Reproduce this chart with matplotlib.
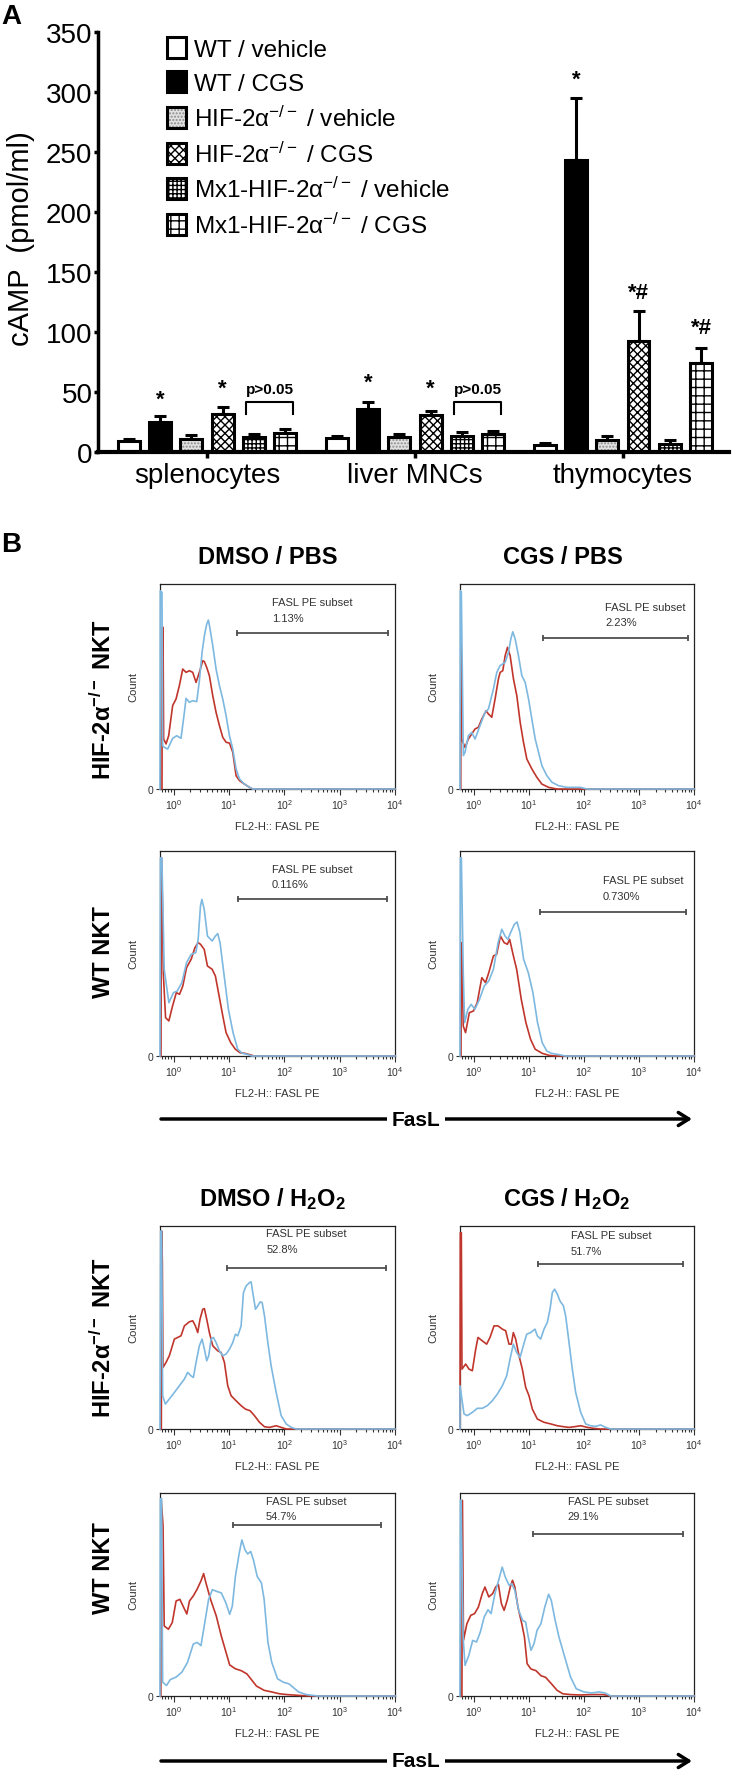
import numpy as np
import matplotlib.pyplot as plt
from matplotlib.patches import Patch, FancyArrowPatch

plt.rcParams['font.family'] = ['Liberation Sans', 'DejaVu Sans']
plt.rcParams['mathtext.fontset'] = 'custom'
plt.rcParams['mathtext.rm'] = 'Liberation Sans'
plt.rcParams['mathtext.it'] = 'Liberation Sans:italic'
plt.rcParams['mathtext.bf'] = 'Liberation Sans:bold'
plt.rcParams['hatch.linewidth'] = 1.0

W, H = 733, 1774   # output size in pixels (dpi 100)

# ---------------- panel A data: cAMP (pmol/ml) ----------------
cells = ['splenocytes', 'liver MNCs', 'thymocytes']
groups = ['WT / vehicle', 'WT / CGS',
          'HIF-2α$^{-/-}$ / vehicle', 'HIF-2α$^{-/-}$ / CGS',
          'Mx1-HIF-2α$^{-/-}$ / vehicle', 'Mx1-HIF-2α$^{-/-}$ / CGS']

wt_vehicle = [9.2, 11.7, 6.1]
wt_cgs = [25.0, 35.8, 243.6]
hif_vehicle = [11.0, 12.2, 9.7]
hif_cgs = [31.7, 31.1, 92.5]
mx1_vehicle = [12.2, 13.3, 6.4]
mx1_cgs = [15.8, 15.3, 74.4]

wt_vehicle_err = [1.8, 1.3, 1.4]
wt_cgs_err = [4.7, 5.9, 51.4]
hif_vehicle_err = [2.9, 2.8, 3.3]
hif_cgs_err = [5.8, 3.3, 24.7]
mx1_vehicle_err = [2.8, 3.4, 3.9]
mx1_cgs_err = [3.6, 1.9, 12.5]

# significance marks: (text, cell index, group index, y)
sig_text = ['*', '*', '*', '*', '*', '*#', '*#']
sig_cell = [0, 0, 1, 1, 2, 2, 2]
sig_group = [1, 3, 1, 3, 1, 3, 5]
sig_y = [44, 53, 58, 53, 311, 133, 104]
ns_cells = [0, 1]
ns_bracket_y = 41.7
ns_leg_y = 32
ns_text_y = 52.8

# ---------------- panel B data: FasL histograms ----------------
# points are (log10 FL2-H, % of max)
hif_dmso_pbs_red = [(-0.214, 0), (-0.208, 78.9), (-0.196, 78.9), (-0.184, 24.4), (-0.141, 22.0), (-0.093, 26.0), (-0.021, 40.7), (0.040, 43.9), (0.100, 50.4), (0.161, 58.5), (0.221, 56.9), (0.281, 57.7), (0.342, 56.9), (0.402, 52.0), (0.462, 56.9), (0.523, 62.6), (0.553, 62.1), (0.595, 59.3), (0.643, 55.3), (0.704, 45.5), (0.764, 37.4), (0.825, 30.9), (0.885, 25.2), (0.945, 22.8), (1.006, 22.4), (1.066, 17.9), (1.126, 6.5), (1.187, 4.1), (1.277, 2.4), (1.368, 0.8), (1.428, 0), (4.0, 0)]
hif_dmso_pbs_blue = [(-0.25, 0), (-0.244, 96.7), (-0.214, 95.9), (-0.202, 21.1), (-0.171, 20.3), (-0.111, 19.5), (-0.021, 24.7), (0.052, 26.0), (0.130, 24.7), (0.191, 37.4), (0.221, 44.2), (0.281, 42.3), (0.342, 43.1), (0.414, 42.6), (0.462, 52.8), (0.511, 66.7), (0.553, 74.8), (0.595, 80.5), (0.625, 82.4), (0.656, 78.0), (0.704, 69.9), (0.764, 58.5), (0.825, 50.4), (0.885, 43.9), (0.945, 35.8), (1.006, 26.0), (1.066, 19.5), (1.126, 9.8), (1.187, 4.9), (1.277, 2.4), (1.368, 0.8), (1.428, 0), (4.0, 0)]

hif_cgs_pbs_red = [(-0.238, 0), (-0.232, 87.0), (-0.220, 24.4), (-0.159, 20.3), (-0.098, 24.4), (-0.038, 26.8), (0.023, 29.3), (0.084, 30.1), (0.145, 34.1), (0.224, 38.2), (0.266, 36.6), (0.327, 35.0), (0.387, 43.9), (0.448, 53.7), (0.479, 56.9), (0.527, 57.7), (0.570, 65.0), (0.612, 69.1), (0.661, 65.0), (0.721, 53.7), (0.782, 45.5), (0.843, 32.5), (0.903, 22.8), (0.964, 14.6), (1.055, 9.8), (1.146, 5.7), (1.237, 2.4), (1.359, 0.8), (1.511, 0), (4.0, 0)]
hif_cgs_pbs_blue = [(-0.25, 0), (-0.244, 96.7), (-0.226, 95.9), (-0.189, 16.3), (-0.159, 17.9), (-0.098, 26.0), (-0.038, 27.6), (0.023, 24.4), (0.114, 30.9), (0.205, 37.4), (0.266, 39.0), (0.357, 48.8), (0.418, 56.9), (0.479, 60.2), (0.570, 61.8), (0.630, 66.7), (0.673, 73.2), (0.709, 76.7), (0.752, 73.2), (0.812, 65.0), (0.873, 55.3), (0.934, 52.0), (0.995, 43.9), (1.055, 34.1), (1.116, 24.4), (1.177, 17.9), (1.237, 11.4), (1.328, 6.5), (1.420, 3.3), (1.541, 1.6), (1.693, 0.8), (1.936, 0.8), (2.057, 0), (4.0, 0)]

wt_dmso_pbs_red = [(-0.233, 0), (-0.225, 96.7), (-0.208, 78.0), (-0.191, 40.7), (-0.149, 18.7), (-0.090, 17.1), (-0.023, 24.4), (0.045, 30.9), (0.103, 30.1), (0.162, 34.1), (0.230, 43.1), (0.314, 47.2), (0.381, 52.8), (0.440, 55.3), (0.482, 54.5), (0.550, 52.0), (0.608, 43.9), (0.693, 42.3), (0.752, 39.0), (0.819, 29.3), (0.886, 19.5), (0.945, 11.4), (1.029, 6.5), (1.113, 3.3), (1.198, 1.6), (1.282, 1.3), (1.366, 0.7), (1.450, 0), (4.0, 0)]
wt_dmso_pbs_blue = [(-0.25, 0), (-0.242, 96.7), (-0.216, 96.7), (-0.174, 42.3), (-0.090, 26.0), (-0.006, 30.9), (0.061, 31.7), (0.146, 35.8), (0.230, 45.5), (0.314, 49.6), (0.398, 50.4), (0.440, 56.9), (0.482, 73.2), (0.507, 76.4), (0.550, 71.5), (0.608, 58.5), (0.693, 56.1), (0.752, 58.5), (0.794, 59.7), (0.836, 55.3), (0.903, 40.7), (0.987, 22.8), (1.071, 11.4), (1.155, 3.3), (1.240, 1.3), (1.324, 0.8), (1.408, 0), (4.0, 0)]

wt_cgs_pbs_red = [(-0.233, 0), (-0.225, 55.3), (-0.208, 40.0), (-0.191, 14.6), (-0.149, 11.4), (-0.081, 21.1), (-0.005, 22.0), (0.062, 26.0), (0.146, 38.2), (0.214, 35.8), (0.273, 40.7), (0.357, 48.8), (0.416, 49.6), (0.484, 58.5), (0.551, 55.3), (0.610, 54.5), (0.652, 56.9), (0.720, 48.8), (0.779, 42.3), (0.863, 27.6), (0.947, 16.3), (1.032, 8.1), (1.116, 3.3), (1.243, 1.3), (1.369, 0.3), (1.496, 0), (4.0, 0)]
wt_cgs_pbs_blue = [(-0.25, 0), (-0.242, 96.7), (-0.225, 96.7), (-0.191, 40.7), (-0.166, 16.3), (-0.107, 22.8), (-0.048, 25.2), (0.020, 22.8), (0.104, 27.6), (0.189, 34.1), (0.273, 36.6), (0.357, 42.3), (0.442, 55.3), (0.509, 61.8), (0.568, 58.5), (0.619, 56.9), (0.669, 60.2), (0.737, 64.2), (0.787, 65.4), (0.838, 60.2), (0.905, 47.2), (0.990, 40.7), (1.074, 30.9), (1.158, 16.3), (1.243, 6.5), (1.327, 2.4), (1.411, 1.3), (1.538, 0.7), (1.664, 0), (4.0, 0)]

hif_dmso_h2o2_red = [(-0.226, 0), (-0.220, 97.5), (-0.208, 82.8), (-0.196, 30.3), (-0.141, 32.8), (-0.081, 36.1), (0.010, 44.3), (0.070, 45.1), (0.130, 45.9), (0.191, 50.8), (0.281, 52.8), (0.342, 53.3), (0.390, 50.8), (0.432, 47.5), (0.474, 54.1), (0.523, 59.0), (0.553, 59.3), (0.595, 54.1), (0.643, 47.5), (0.704, 41.0), (0.794, 38.5), (0.855, 37.7), (0.915, 32.8), (0.975, 21.3), (1.036, 16.4), (1.126, 13.9), (1.217, 11.5), (1.295, 9.8), (1.380, 9.0), (1.458, 6.6), (1.549, 3.3), (1.640, 1.1), (1.730, 0.8), (1.851, 1.6), (1.941, 0.8), (2.032, 0), (4.0, 0)]
hif_dmso_h2o2_blue = [(-0.25, 0), (-0.238, 97.5), (-0.220, 97.5), (-0.202, 16.4), (-0.153, 12.3), (-0.081, 14.8), (0.010, 18.0), (0.100, 21.3), (0.191, 24.6), (0.251, 27.9), (0.311, 26.2), (0.354, 25.4), (0.402, 32.8), (0.462, 41.0), (0.511, 44.3), (0.553, 39.3), (0.595, 33.6), (0.631, 36.1), (0.674, 44.3), (0.716, 45.1), (0.764, 42.6), (0.825, 38.5), (0.885, 36.1), (0.945, 36.9), (1.006, 39.3), (1.066, 42.6), (1.114, 46.7), (1.157, 45.9), (1.217, 50.8), (1.259, 67.2), (1.308, 70.5), (1.368, 72.1), (1.398, 72.5), (1.428, 67.2), (1.477, 59.0), (1.519, 60.7), (1.561, 62.6), (1.597, 62.3), (1.640, 55.7), (1.700, 42.6), (1.760, 31.1), (1.851, 18.0), (1.941, 6.6), (2.032, 2.5), (2.123, 0.8), (2.213, 0), (4.0, 0)]

hif_cgs_h2o2_red = [(-0.25, 0), (-0.244, 96.7), (-0.226, 96.7), (-0.214, 29.5), (-0.147, 32.0), (-0.087, 29.5), (-0.026, 28.7), (0.035, 39.3), (0.077, 45.1), (0.156, 43.4), (0.234, 41.8), (0.295, 45.1), (0.368, 50.8), (0.440, 50.8), (0.519, 49.2), (0.579, 48.4), (0.640, 41.8), (0.682, 41.8), (0.719, 47.5), (0.761, 44.3), (0.822, 36.1), (0.882, 29.5), (0.943, 20.5), (1.003, 16.4), (1.064, 9.8), (1.155, 4.9), (1.276, 3.3), (1.397, 2.5), (1.518, 1.6), (1.639, 1.1), (1.730, 0.8), (1.820, 1.1), (1.942, 1.6), (2.063, 0.8), (2.184, 0.3), (2.305, 0), (4.0, 0)]
hif_cgs_h2o2_blue = [(-0.25, 0), (-0.25, 21.3), (-0.177, 7.4), (-0.117, 6.6), (-0.026, 8.2), (0.065, 10.2), (0.156, 10.2), (0.246, 11.5), (0.337, 13.9), (0.428, 17.2), (0.519, 21.3), (0.598, 26.2), (0.658, 34.4), (0.719, 41.8), (0.779, 37.7), (0.840, 35.2), (0.900, 41.0), (0.961, 46.7), (1.033, 47.5), (1.112, 49.2), (1.155, 45.9), (1.215, 44.3), (1.276, 49.2), (1.336, 52.5), (1.385, 59.0), (1.427, 67.2), (1.469, 68.9), (1.518, 66.4), (1.566, 63.1), (1.627, 60.7), (1.669, 55.7), (1.730, 42.6), (1.790, 29.5), (1.851, 18.0), (1.942, 8.2), (2.032, 2.5), (2.123, 1.6), (2.214, 1.3), (2.305, 2.0), (2.396, 0.8), (2.486, 0), (4.0, 0)]

wt_dmso_h2o2_red = [(-0.236, 0), (-0.229, 97.2), (-0.195, 84.0), (-0.174, 34.5), (-0.098, 32.9), (-0.028, 36.2), (0.041, 46.8), (0.110, 47.6), (0.179, 43.6), (0.235, 40.4), (0.283, 46.8), (0.352, 49.3), (0.421, 52.6), (0.491, 56.7), (0.539, 60.3), (0.581, 55.7), (0.664, 47.6), (0.768, 39.4), (0.858, 29.6), (0.927, 23.1), (1.010, 15.3), (1.114, 13.4), (1.217, 12.5), (1.321, 10.9), (1.391, 8.5), (1.494, 4.9), (1.633, 2.8), (1.771, 2.0), (1.910, 1.1), (2.048, 0.7), (2.256, 0.3), (2.463, 0), (4.0, 0)]
wt_dmso_h2o2_blue = [(-0.25, 0), (-0.243, 97.2), (-0.222, 97.2), (-0.202, 6.8), (-0.132, 5.2), (-0.063, 8.1), (0.041, 9.3), (0.145, 11.7), (0.248, 16.6), (0.352, 25.6), (0.421, 26.4), (0.491, 24.8), (0.560, 36.2), (0.629, 47.6), (0.698, 52.4), (0.768, 51.6), (0.858, 50.8), (0.941, 45.9), (1.010, 40.2), (1.058, 44.3), (1.114, 59.0), (1.183, 70.4), (1.231, 76.9), (1.287, 72.0), (1.335, 70.0), (1.391, 71.2), (1.439, 67.1), (1.508, 58.9), (1.584, 55.7), (1.633, 47.6), (1.702, 26.4), (1.771, 16.6), (1.875, 8.5), (1.979, 6.8), (2.083, 6.0), (2.173, 3.9), (2.256, 2.0), (2.394, 0.7), (2.602, 0), (4.0, 0)]

wt_cgs_h2o2_red = [(-0.215, 0), (-0.208, 96.4), (-0.194, 55.0), (-0.187, 27.4), (-0.125, 35.6), (-0.055, 39.7), (0.015, 40.6), (0.084, 43.8), (0.154, 50.4), (0.203, 53.7), (0.273, 48.8), (0.342, 50.4), (0.398, 53.7), (0.447, 55.0), (0.502, 45.5), (0.551, 42.2), (0.607, 47.1), (0.663, 53.7), (0.704, 57.0), (0.746, 53.7), (0.802, 43.8), (0.872, 35.6), (0.920, 29.1), (0.969, 15.9), (1.039, 13.3), (1.129, 12.5), (1.220, 10.0), (1.304, 9.2), (1.408, 6.1), (1.513, 2.8), (1.617, 1.1), (1.757, 0.7), (1.931, 0.5), (2.140, 0.7), (2.349, 0.7), (2.488, 0), (4.0, 0)]
wt_cgs_h2o2_blue = [(-0.25, 0), (-0.243, 96.4), (-0.229, 96.4), (-0.215, 68.3), (-0.194, 29.1), (-0.159, 15.1), (-0.090, 20.0), (-0.020, 27.4), (0.050, 26.6), (0.119, 31.5), (0.189, 38.9), (0.259, 42.5), (0.314, 40.6), (0.384, 50.4), (0.468, 58.6), (0.516, 63.5), (0.572, 58.6), (0.642, 54.5), (0.691, 55.3), (0.746, 52.0), (0.816, 42.2), (0.886, 37.3), (0.941, 36.5), (0.990, 29.1), (1.039, 22.5), (1.095, 25.8), (1.150, 32.4), (1.220, 35.6), (1.290, 43.8), (1.359, 50.1), (1.408, 47.1), (1.478, 37.3), (1.547, 29.1), (1.652, 19.2), (1.757, 9.4), (1.861, 3.6), (2.000, 2.0), (2.140, 1.5), (2.279, 2.0), (2.383, 1.5), (2.488, 0), (4.0, 0)]

# gates, in panel order: HIF pbs (dmso, cgs), WT pbs, HIF h2o2, WT h2o2
gate_pct = ['1.13%', '2.23%', '0.116%', '0.730%', '52.8%', '51.7%', '54.7%', '29.1%']
gate_start = [1.145, 1.256, 1.155, 1.200, 0.963, 1.167, 1.065, 1.074]
gate_end = [3.873, 3.890, 3.849, 3.857, 3.843, 3.806, 3.744, 3.798]
gate_level = [75.9, 73.7, 76.4, 70.2, 79.2, 81.5, 84.2, 79.6]
gate_text_x = [1.772, 2.391, 1.770, 2.339, 1.670, 1.760, 1.667, 1.708]
gate_text_y = [91.0, 88.9, 91.4, 85.7, 96.4, 95.4, 96.1, 96.1]

col_titles_pbs = ['DMSO / PBS', 'CGS / PBS']
col_titles_h2o2 = [r'DMSO / H$_\mathbf{2}$O$_\mathbf{2}$', r'CGS / H$_\mathbf{2}$O$_\mathbf{2}$']
row_labels = [r'HIF-2α$^{\mathbf{-/-}}$ NKT', 'WT NKT', r'HIF-2α$^{\mathbf{-/-}}$ NKT', 'WT NKT']

RED = '#c0362c'
BLUE = '#7db8e0'


def px_axes(fig, l, t, r, b):
    return fig.add_axes([l / W, 1 - b / H, (r - l) / W, (b - t) / H])


def fig_text(fig, x, y, s, **kw):
    return fig.text(x / W, 1 - y / H, s, **kw)


fig = plt.figure(figsize=(W / 100, H / 100), dpi=100)

# ================= panel A =================
ax = px_axes(fig, 98, 33, 729, 453)
means = [wt_vehicle, wt_cgs, hif_vehicle, hif_cgs, mx1_vehicle, mx1_cgs]
errs = [wt_vehicle_err, wt_cgs_err, hif_vehicle_err, hif_cgs_err, mx1_vehicle_err, mx1_cgs_err]
styles = [('white', None, 'black'), ('black', None, 'black'),
          ('#e2e2e2', '.....', '#8c8c8c'), ('white', 'xxxx', 'black'),
          ('white', '++++', 'black'), ('white', '++', 'black')]
group_pitch = 6.645
centers = np.arange(len(cells)) * group_pitch
bw = 0.70
handles = []
for g in range(len(groups)):
    x = centers + (g - 2.5)
    face, hatch, hc = styles[g]
    ax.bar(x, means[g], width=bw, color=face, edgecolor=hc, hatch=hatch, linewidth=0, zorder=2)
    ax.bar(x, means[g], width=bw, fill=False, edgecolor='black', linewidth=2.2, zorder=3)
    ax.errorbar(x, means[g], yerr=[np.zeros(len(cells)), errs[g]], fmt='none', ecolor='black',
                elinewidth=2.2, capsize=4.5, capthick=2.2, zorder=1)
    h1 = Patch(facecolor=face, edgecolor=hc, hatch=hatch, linewidth=0)
    h2 = Patch(fill=False, edgecolor='black', linewidth=2.2)
    handles.append((h1, h2))

for t, c, g, y in zip(sig_text, sig_cell, sig_group, sig_y):
    ax.text(centers[c] + g - 2.5, y, t, ha='center', va='center', fontsize=16, fontweight='bold')

for c in ns_cells:
    x0 = centers[c] + 1.5 - 0.25
    x1 = centers[c] + 2.5 + 0.25
    ax.plot([x0, x0, x1, x1], [ns_leg_y, ns_bracket_y, ns_bracket_y, ns_leg_y], color='black', lw=1.5)
    ax.text((x0 + x1) / 2, ns_text_y, 'p>0.05', ha='center', va='center', fontsize=11, fontweight='bold')

ax.set_xlim(-3.48, 16.68)
ax.set_ylim(0, 350)
ax.set_yticks(np.arange(0, 351, 50))
ax.set_xticks(centers)
ax.set_xticklabels(cells)
ax.tick_params(axis='y', labelsize=20, width=2.5, length=3, pad=1)
ax.tick_params(axis='x', labelsize=20, width=2.5, length=4, pad=3)
ax.spines['top'].set_visible(False)
ax.spines['right'].set_visible(False)
ax.spines['left'].set_linewidth(2.5)
ax.spines['bottom'].set_linewidth(3)
ax.set_ylabel('cAMP  (pmol/ml)', fontsize=21)
ax.yaxis.set_label_coords(-0.1, 0.51)

fig.legend(handles, groups, loc='upper left', bbox_to_anchor=(167 / W, 1 - 38 / H),
           frameon=False, borderpad=0, borderaxespad=0, fontsize=17.5,
           handlelength=0.8, handleheight=0.95, handletextpad=0.3, labelspacing=0.43)

fig_text(fig, 1, 17, 'A', fontsize=20, fontweight='bold', va='center', ha='left')

# ================= panel B =================
fig_text(fig, 1, 545, 'B', fontsize=20, fontweight='bold', va='center', ha='left')

panels = [(hif_dmso_pbs_red, hif_dmso_pbs_blue), (hif_cgs_pbs_red, hif_cgs_pbs_blue),
          (wt_dmso_pbs_red, wt_dmso_pbs_blue), (wt_cgs_pbs_red, wt_cgs_pbs_blue),
          (hif_dmso_h2o2_red, hif_dmso_h2o2_blue), (hif_cgs_h2o2_red, hif_cgs_h2o2_blue),
          (wt_dmso_h2o2_red, wt_dmso_h2o2_blue), (wt_cgs_h2o2_red, wt_cgs_h2o2_blue)]
cols_x = [(160, 395), (460, 694)]
rows_y = [(585, 790), (852, 1057), (1227, 1430), (1494, 1697)]

for i, (red, blue) in enumerate(panels):
    row, col = divmod(i, 2)
    l, r = cols_x[col]
    t, b = rows_y[row]
    hx = px_axes(fig, l, t, r, b)
    for pts, colr, z in ((red, RED, 3), (blue, BLUE, 4)):
        d = np.array(pts)
        hx.plot(10 ** d[:, 0], d[:, 1], color=colr, lw=1.2, zorder=z, clip_on=False)
    hx.plot([10 ** gate_start[i], 10 ** gate_end[i]], [gate_level[i]] * 2, color='#505050',
            lw=1.3, marker='|', ms=5, mew=1.3)
    hx.text(10 ** gate_text_x[i], gate_text_y[i], 'FASL PE subset', fontsize=8, color='#333333', va='center')
    hx.text(10 ** gate_text_x[i], gate_text_y[i] - 7.5, gate_pct[i], fontsize=8, color='#333333', va='center')
    hx.set_xscale('log')
    hx.set_xlim(10 ** -0.25, 1e4)
    hx.set_ylim(0, 100)
    hx.set_yticks([0])
    hx.set_yticklabels(['0'])
    hx.tick_params(axis='both', which='both', direction='out', labelsize=7.5, colors='#333333', width=0.8)
    hx.tick_params(axis='x', which='major', length=4.5, pad=1.5)
    hx.tick_params(axis='x', which='minor', length=2.5)
    hx.tick_params(axis='y', length=3, pad=2)
    for s in hx.spines.values():
        s.set_linewidth(0.9)
        s.set_color('#222222')
    axw = r - l
    axh = b - t
    hx.text(-27 / axw, 0.5, 'Count', rotation=90, fontsize=8, color='#333333',
            transform=hx.transAxes, ha='center', va='center')
    hx.text(0.5, -37 / axh, 'FL2-H:: FASL PE', fontsize=8, color='#333333',
            transform=hx.transAxes, ha='center', va='center')

# column titles
for x, s in zip([268, 563], col_titles_pbs):
    fig_text(fig, x, 557, s, fontsize=17, fontweight='bold', ha='center', va='center')
for x, s in zip([272, 567], col_titles_h2o2):
    fig_text(fig, x, 1199, s, fontsize=17, fontweight='bold', ha='center', va='center')

# row labels
for y, s in zip([700, 952, 1338, 1568], row_labels):
    fig_text(fig, 103, y, s, fontsize=17, fontweight='bold', rotation=90, ha='center', va='center')

# FasL arrows
for y in [1120, 1762]:
    arrow = FancyArrowPatch((161 / W, 1 - y / H), (692 / W, 1 - y / H), transform=fig.transFigure,
                            arrowstyle='->,head_length=0.75,head_width=0.47', mutation_scale=10,
                            lw=2.5, color='black', shrinkA=0, shrinkB=0)
    fig.add_artist(arrow)
    fig_text(fig, 416, y, 'FasL', fontsize=15, fontweight='bold', ha='center', va='center',
             bbox=dict(facecolor='white', edgecolor='none', pad=3))

fig.savefig('out.png', dpi=100)
